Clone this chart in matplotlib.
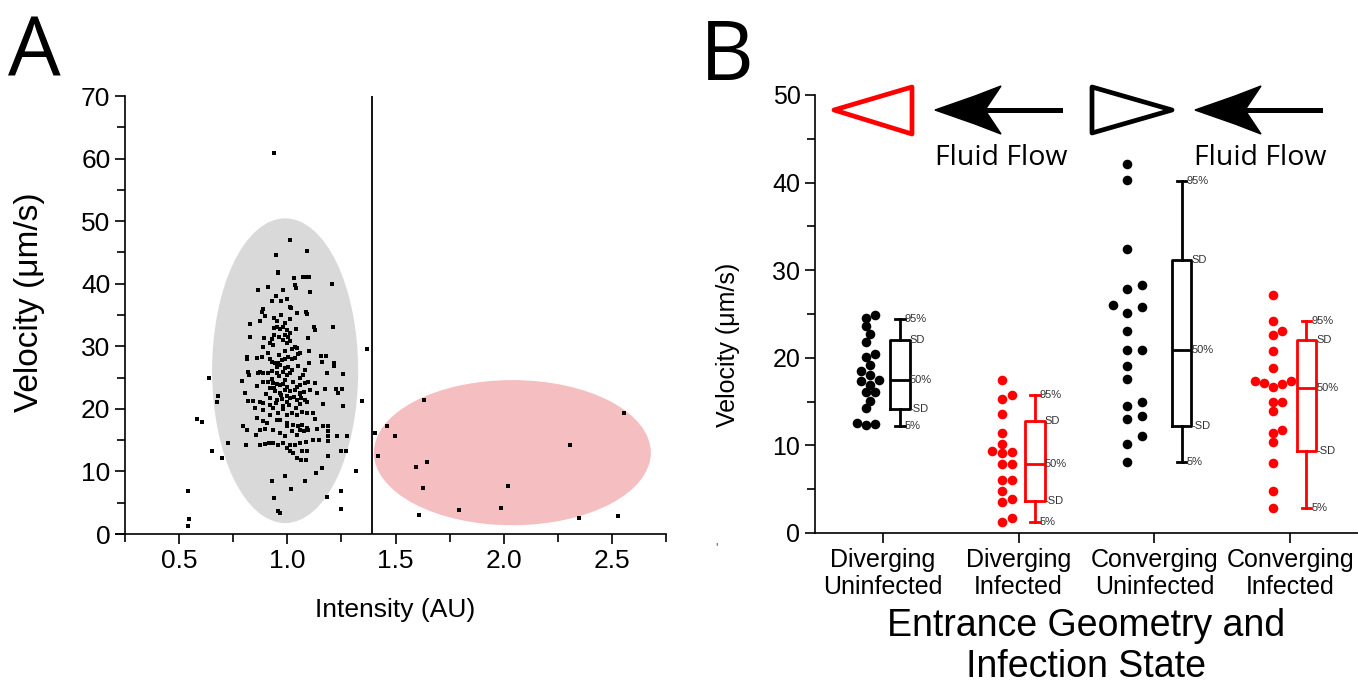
import numpy as np
import matplotlib
matplotlib.use("Agg")
import matplotlib.pyplot as plt
from matplotlib.patches import Ellipse, Polygon
from matplotlib.ticker import MultipleLocator

plt.rcParams["font.family"] = ["Liberation Sans", "DejaVu Sans"]

# ---------------- Panel A data (intensity in AU, velocity in um/s) ----------------
intensity = [1.012, 0.946, 1.091, 0.955, 0.955, 1.031, 1.074, 1.086, 1.100, 1.036,
             1.040, 0.863, 0.909, 0.980, 1.103, 1.208, 0.946, 0.931, 0.969, 0.888,
             0.885, 1.011, 1.019, 1.043, 1.086, 1.093, 0.875, 0.895, 0.940, 0.952,
             0.991, 1.012, 0.826, 1.123, 1.128, 1.210, 0.940, 0.951, 0.966, 0.982,
             0.997, 0.989, 1.005, 1.012, 0.828, 0.894, 0.928, 0.920, 0.935, 0.963,
             0.982, 0.997, 1.012, 1.036, 1.046, 1.097, 1.100, 0.889, 0.812, 0.812,
             0.858, 0.881, 0.920, 0.928, 0.943, 0.958, 0.974, 0.989, 1.005, 1.020,
             1.036, 1.051, 1.059, 1.157, 1.177, 1.159, 1.216, 1.214, 0.951, 0.966,
             0.989, 1.005, 0.820, 0.824, 0.866, 0.874, 0.889, 0.912, 0.954, 0.982,
             0.997, 1.012, 1.182, 1.256, 1.074, 1.059, 0.789, 0.804, 0.640, 0.889,
             0.912, 0.935, 0.951, 0.966, 0.982, 0.997, 1.028, 1.043, 1.059, 1.082,
             1.097, 1.128, 0.920, 0.943, 0.966, 0.989, 1.012, 1.036, 1.059, 1.077,
             1.105, 1.139, 1.174, 1.225, 1.236, 1.251, 0.681, 0.677, 0.820, 0.843,
             0.874, 0.886, 0.920, 0.951, 0.974, 0.997, 1.012, 1.043, 1.062, 1.082,
             1.090, 1.163, 1.256, 1.344, 1.367, 0.851, 0.889, 0.935, 0.958, 0.982,
             0.997, 1.020, 1.043, 1.066, 1.090, 1.120, 0.858, 0.889, 0.908, 0.951,
             0.966, 0.997, 1.028, 1.051, 1.069, 1.093, 1.128, 0.581, 0.607, 0.794,
             0.815, 0.874, 0.897, 0.935, 0.966, 0.989, 0.997, 1.020, 1.043, 1.059,
             1.077, 1.097, 1.136, 1.163, 1.187, 1.190, 1.190, 1.231, 1.274, 0.855,
             0.874, 0.897, 0.917, 0.935, 0.958, 0.982, 0.997, 1.012, 1.036, 1.059,
             1.086, 1.120, 1.148, 1.187, 0.809, 0.724, 0.653, 0.700, 1.012, 1.028,
             1.043, 1.062, 1.086, 1.066, 1.090, 1.188, 1.247, 1.270, 1.317, 1.133,
             1.159, 0.989, 1.082, 0.929, 1.017, 0.940, 1.183, 1.247, 0.958, 0.966,
             1.247, 0.539, 0.546, 0.541, 0.939,
             0.93, 0.96, 0.99, 1.02, 1.05, 0.94, 0.97, 1.00, 1.03, 1.06,
             0.92, 0.95, 0.98, 1.01, 1.04, 0.90, 0.93, 1.08, 1.10, 0.96,
             0.99, 1.02, 0.91, 0.94, 1.04, 0.97, 1.00, 0.92, 1.06, 0.86,
             1.632, 1.404, 1.459, 1.498, 1.420, 1.644, 1.595, 1.626, 1.610, 1.792,
             1.986, 2.018, 2.306, 2.556, 2.346, 2.530]
velocity = [47.0, 44.6, 45.3, 41.9, 41.7, 40.9, 41.1, 41.0, 41.0, 39.8,
            39.3, 39.0, 39.4, 39.0, 38.6, 39.9, 38.0, 37.3, 37.3, 35.9,
            35.5, 36.3, 36.1, 35.3, 35.4, 35.1, 34.1, 34.8, 34.6, 34.0,
            33.7, 34.4, 33.6, 33.1, 32.6, 33.1, 32.9, 33.1, 32.7, 33.1,
            32.6, 31.8, 31.5, 32.1, 31.5, 31.4, 31.2, 30.5, 30.2, 31.5,
            31.0, 30.5, 30.9, 29.9, 29.7, 31.4, 29.3, 29.9, 28.3, 28.0,
            28.1, 28.3, 27.9, 27.5, 27.3, 27.4, 27.8, 27.9, 28.3, 27.9,
            28.2, 28.8, 29.0, 28.4, 28.4, 27.5, 27.3, 26.8, 26.7, 27.0,
            26.5, 26.7, 25.9, 25.4, 25.8, 25.9, 25.7, 25.7, 25.7, 25.9,
            25.4, 25.7, 25.7, 25.6, 25.4, 24.9, 24.5, 22.6, 24.9, 24.3,
            24.3, 24.1, 24.0, 23.8, 24.0, 23.5, 24.3, 23.5, 23.8, 24.1,
            24.3, 24.2, 23.3, 22.9, 22.6, 23.0, 22.9, 23.0, 22.5, 22.7,
            23.0, 22.5, 23.1, 23.1, 22.5, 23.1, 22.1, 21.1, 21.2, 21.2,
            21.1, 21.0, 21.7, 21.4, 21.5, 21.1, 21.7, 21.4, 21.7, 21.4,
            21.1, 20.8, 20.5, 21.2, 29.5, 20.1, 19.8, 20.1, 19.3, 19.9,
            19.0, 19.3, 19.0, 19.5, 19.3, 19.3, 18.5, 18.0, 17.8, 18.2,
            18.2, 17.7, 17.4, 17.2, 17.4, 16.9, 18.3, 18.4, 17.9, 17.2,
            16.6, 16.7, 16.8, 16.6, 16.1, 15.6, 17.2, 16.4, 15.8, 16.6,
            16.4, 16.7, 16.8, 17.2, 17.2, 16.4, 15.7, 15.6, 15.6, 15.8,
            14.2, 14.4, 14.6, 14.5, 14.2, 14.6, 13.7, 14.2, 14.2, 14.5,
            14.7, 15.0, 15.0, 14.8, 14.2, 14.5, 13.3, 12.1, 13.2, 12.9,
            12.1, 11.8, 11.8, 13.2, 13.2, 12.5, 13.3, 13.2, 10.0, 9.7,
            10.5, 9.2, 8.4, 8.4, 7.2, 5.8, 5.9, 6.9, 3.6, 3.3,
            4.0, 6.9, 2.4, 1.3, 60.9,
            26.0, 25.2, 24.6, 26.2, 26.9, 23.4, 22.2, 22.0, 21.9, 22.3,
            20.6, 20.9, 20.4, 20.6, 20.2, 22.4, 24.8, 26.2, 27.4, 28.6,
            29.2, 29.5, 29.0, 31.8, 32.7, 35.0, 37.6, 19.0, 20.8, 23.7,
            21.4, 16.1, 17.3, 15.7, 12.5, 11.5, 10.7, 7.3, 3.0, 3.8,
            4.2, 7.7, 14.3, 19.3, 2.5, 2.9]

# shaded groups (centre, width, height) and the intensity cut-off line
uninf_region = (0.99, 26.1, 0.675, 48.7)
inf_region = (2.04, 13.0, 1.28, 23.2)
cutoff = 1.39

# ---------------- Panel B data (velocity in um/s) ----------------
groups = ["Diverging\nUninfected", "Diverging\nInfected", "Converging\nUninfected", "Converging\nInfected"]
div_uninf = [24.9, 24.6, 23.6, 22.7, 21.8, 20.4, 20.1, 19.2, 18.5, 18.0,
             17.5, 17.3, 16.9, 16.1, 16.1, 15.1, 14.3, 12.6, 12.5, 12.3]
div_inf = [17.5, 15.3, 15.7, 13.6, 11.4, 10.2, 9.4, 9.3, 9.1, 7.9,
           7.9, 6.0, 6.0, 4.8, 3.9, 3.5, 1.7, 1.3]
conv_uninf = [42.1, 40.3, 32.4, 27.9, 28.3, 26.0, 25.8, 25.1, 23.1, 20.9,
              20.9, 19.1, 17.6, 14.9, 14.5, 13.4, 13.0, 11.1, 10.2, 8.1]
conv_inf = [27.2, 24.2, 23.1, 22.6, 20.8, 18.8, 17.4, 17.1, 17.4, 16.7,
            17.0, 14.9, 14.9, 13.9, 11.8, 11.4, 10.4, 8.0, 4.8, 2.8]
# box summary: 95%, +SD, median, -SD, 5%
p95 = [24.4, 15.7, 40.2, 24.2]
sd_hi = [22.0, 12.8, 31.2, 22.0]
median = [17.5, 7.9, 20.9, 16.6]
sd_lo = [14.2, 3.6, 12.25, 9.4]
p5 = [12.25, 1.3, 8.1, 2.8]

colors = ["black", "red", "black", "red"]
dot_off = [-0.125, -0.125, -0.2, -0.125]
box_off = [0.125, 0.12, 0.2, 0.12]
swarm_gap = [1.0, 1.1, 1.6, 1.0]   # how far apart Origin spread the dots in each column

W, H = 1358, 685
fig = plt.figure(figsize=(W / 100, H / 100), dpi=100)

def px(x, y):
    # pixel position (from top left) -> figure fraction
    return (x / W, 1 - y / H)

# ---------------- Panel A ----------------
axA = fig.add_axes([125 / W, 1 - 534 / H, 541 / W, 438 / H])
for (cx, cy, ew, eh), col in [(uninf_region, "#d9d9d9"), (inf_region, "#f5bfc1")]:
    axA.add_patch(Ellipse((cx, cy), ew, eh, facecolor=col, edgecolor="none", zorder=0))
axA.axvline(cutoff, color="black", lw=1.3, zorder=1)
axA.scatter(intensity, velocity, marker="s", s=5, color="black", linewidths=0, zorder=2)
axA.set_xlim(0.25, 2.75)
axA.set_ylim(0, 70)
axA.xaxis.set_minor_locator(MultipleLocator(0.25))
axA.yaxis.set_major_locator(MultipleLocator(10))
axA.yaxis.set_minor_locator(MultipleLocator(5))
axA.set_xticks([0.5, 1.0, 1.5, 2.0, 2.5])
axA.set_xticklabels(["0.5", "1.0", "1.5", "2.0", "2.5"])
axA.set_xlabel("Intensity (AU)", fontsize=19, labelpad=18)
axA.set_ylabel("Velocity (\u03bcm/s)", fontsize=24)
axA.yaxis.set_label_coords(-0.148, 0.53)
# x axis line runs a little past the y axis, as in the original
axA.plot([0.21, 0.25], [0, 0], color="black", lw=1.2, clip_on=False)

# ---------------- Panel B ----------------
axB = fig.add_axes([815 / W, 1 - 533 / H, 543 / W, 438 / H])
ppx, ppy, d_px = 543 / 4.0, 438 / 50.0, 9.0

def swarm(vals, gap):
    # simple beeswarm: each dot goes as close to the column centre as it can without overlap
    placed, offs = [], np.zeros(len(vals))
    for i in np.argsort(vals):
        y = vals[i] * ppy
        for k in [0, 1, -1, 2, -2, 3, -3, 4, -4]:
            x = k * d_px * 0.5 * gap
            if all((x - a) ** 2 + (y - b) ** 2 >= (d_px * 0.9 * gap) ** 2 for a, b in placed):
                break
        placed.append((x, y))
        offs[i] = x / ppx
    return offs

for i, vals in enumerate([div_uninf, div_inf, conv_uninf, conv_inf]):
    vals = np.array(vals)
    axB.scatter(i + 1 + dot_off[i] + swarm(vals, swarm_gap[i]), vals, s=48, color=colors[i],
                linewidths=0, zorder=3, clip_on=False)
    pos = i + 1 + box_off[i]
    st = dict(med=median[i], q1=sd_lo[i], q3=sd_hi[i], whislo=p5[i], whishi=p95[i], fliers=[])
    lp = dict(color=colors[i], lw=2)
    axB.bxp([st], positions=[pos], widths=0.145, capwidths=[0.07], showfliers=False,
            boxprops=lp, medianprops=lp, whiskerprops=lp, capprops=lp, manage_ticks=False)
    for val, lab, dx in [(p95[i], "95%", 0.035), (sd_hi[i], "SD", 0.0725), (median[i], "50%", 0.0725),
                         (sd_lo[i], "-SD", 0.0725), (p5[i], "5%", 0.035)]:
        axB.text(pos + dx, val, lab, fontsize=8, color="#333333", va="center", ha="left")

axB.set_xlim(0.5, 4.5)
axB.set_ylim(0, 50)
axB.set_xticks([1, 2, 3, 4])
axB.set_xticklabels(groups, fontsize=18, linespacing=1.2)
axB.yaxis.set_major_locator(MultipleLocator(10))
axB.yaxis.set_minor_locator(MultipleLocator(5))
axB.set_ylabel("Velocity (\u03bcm/s)", fontsize=18)
axB.yaxis.set_label_coords(-0.138, 0.43)
axB.set_xlabel("Entrance Geometry and\nInfection State", fontsize=27, linespacing=1.2, labelpad=6)

for ax in (axA, axB):
    for s in ("top", "right"):
        ax.spines[s].set_visible(False)
    for s in ("left", "bottom"):
        ax.spines[s].set_linewidth(1.2)
    ax.tick_params(which="major", direction="out", length=7, width=1.2)
    ax.tick_params(which="minor", direction="out", length=6, width=1.2)
axA.tick_params(labelsize=19)
axB.tick_params(axis="y", labelsize=18)
axB.tick_params(axis="x", which="minor", length=0)

# ---------------- flow schematic above panel B ----------------
fig.patches.append(Polygon([px(834, 110), px(912, 87), px(912, 134)], closed=True, fill=False,
                           edgecolor="red", lw=3.4, joinstyle="round", transform=fig.transFigure))
fig.patches.append(Polygon([px(1092, 87), px(1172, 110), px(1092, 133)], closed=True, fill=False,
                           edgecolor="black", lw=3.4, joinstyle="round", transform=fig.transFigure))
for tip, tail in [(935, 1060), (1195, 1320)]:
    fig.add_artist(plt.Line2D([px(tip + 40, 0)[0], px(tail, 0)[0]], [px(0, 110)[1]] * 2,
                              color="black", lw=3.6, transform=fig.transFigure))
    fig.patches.append(Polygon([px(tip, 110), px(tip + 40, 96), px(tip + 66, 86), px(tip + 50, 110),
                                px(tip + 66, 134), px(tip + 40, 124)],
                               closed=True, facecolor="black", edgecolor="black", lw=1,
                               transform=fig.transFigure))
for cx in (1001, 1260):
    fig.text(*px(cx, 165), "Fluid Flow", fontsize=20.5, family=["Open Sans", "DejaVu Sans"],
             ha="center", va="baseline")

# panel letters
fig.text(*px(8, 76), "A", fontsize=60, family=["Open Sans", "DejaVu Sans"], ha="left", va="baseline")
fig.text(*px(700, 80), "B", fontsize=60, family=["Open Sans", "DejaVu Sans"], ha="left", va="baseline")
fig.text(*px(716, 548), "'", fontsize=9, color="#555555", ha="center", va="center")

fig.savefig("out.png", dpi=100)
